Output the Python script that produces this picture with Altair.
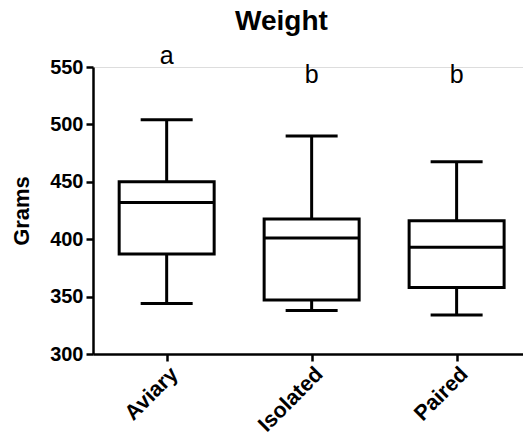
import altair as alt
import pandas as pd

categories = ["Aviary", "Isolated", "Paired"]
minimum = [344, 338, 334]
q1 = [387, 347, 358]
median = [432, 401, 393]
q3 = [450, 417.5, 416]
maximum = [504, 490, 467.5]
letters = ["a", "b", "b"]
letter_y = [553, 536, 536]

df = pd.DataFrame({
    "group": categories,
    "min": minimum,
    "q1": q1,
    "median": median,
    "q3": q3,
    "max": maximum,
    "letter": letters,
    "ly": letter_y,
})

FONT = "Liberation Sans"

x = alt.X(
    "group:N",
    sort=categories,
    scale=alt.Scale(type="point", padding=0.483, align=0.526),
    axis=alt.Axis(
        title=None, labelAngle=-45, labelFontSize=21.5, labelFontWeight="bold",
        labelFont=FONT, labelColor="black", domainColor="black", domainWidth=2.5,
        tickColor="black", tickWidth=2.5, tickSize=7, labelPadding=2,
    ),
)
yscale = alt.Scale(domain=[300, 550], nice=False, zero=False)
yaxis = alt.Axis(
    title="Grams", titleFontSize=22, titleFontWeight="bold", titleFont=FONT,
    titleColor="black", titlePadding=16,
    values=[300, 350, 400, 450, 500, 550], labelFontSize=20, labelFontWeight="bold",
    labelFont=FONT, labelColor="black", domainColor="black", domainWidth=2.5,
    tickColor="black", tickWidth=2.5, tickSize=7, labelPadding=3, grid=False,
)

base = alt.Chart(df)

whisk = base.mark_rule(color="black", strokeWidth=3).encode(
    x=x, y=alt.Y("min:Q", scale=yscale, axis=yaxis), y2="max:Q"
)
box = base.mark_bar(fill="white", stroke="black", strokeWidth=3, size=95).encode(
    x=x, y=alt.Y("q1:Q", scale=yscale), y2="q3:Q"
)
med = base.mark_tick(color="black", opacity=1, size=95, thickness=3).encode(
    x=x, y=alt.Y("median:Q", scale=yscale)
)
cap_lo = base.mark_tick(color="black", opacity=1, size=52, thickness=3).encode(
    x=x, y=alt.Y("min:Q", scale=yscale)
)
cap_hi = base.mark_tick(color="black", opacity=1, size=52, thickness=3).encode(
    x=x, y=alt.Y("max:Q", scale=yscale)
)
txt = base.mark_text(fontSize=25, font=FONT, color="black", baseline="alphabetic", align="center").encode(
    x=x, y=alt.Y("ly:Q", scale=yscale), text="letter:N"
)

chart = alt.layer(whisk, box, med, cap_lo, cap_hi, txt).properties(
    width=430, height=287,
    title=alt.TitleParams("Weight", fontSize=28, fontWeight="bold", font=FONT,
                          color="black", anchor="middle", dx=-26.5, offset=8),
    autosize=alt.AutoSizeParams(type="none"),
    padding={"left": 93, "top": 67, "right": 0, "bottom": 94},
).configure_view(stroke=None).configure(background="white")

chart.save("out.html", embed_options={"renderer": "svg", "actions": False})
